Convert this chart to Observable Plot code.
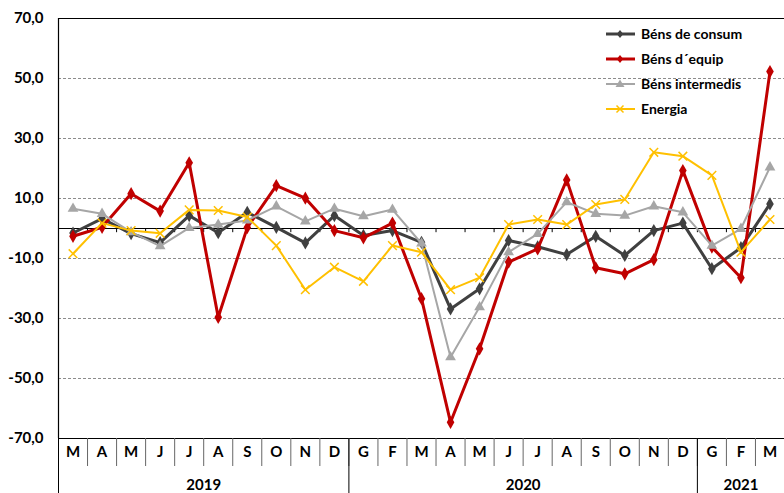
<!DOCTYPE html>
<html><head><meta charset="utf-8">
<script src="https://cdn.jsdelivr.net/npm/d3@7"></script>
<script src="https://cdn.jsdelivr.net/npm/@observablehq/plot@0.6"></script>
<style>
body{margin:0;background:#fff;}
#wrap{position:relative;width:784px;height:493px;}
#legend{position:absolute;left:606px;top:21px;font-family:Lato,"Open Sans",sans-serif;font-weight:bold;font-size:14px;color:#000;}
#legend .row{display:flex;align-items:center;height:25px;}
#legend svg{margin-right:6px;}
</style></head>
<body><div id="wrap"><div id="legend"></div></div>
<script>
const months = ["M","A","M","J","J","A","S","O","N","D","G","F","M","A","M","J","J","A","S","O","N","D","G","F","M"];
const years = ["2019","2020","2021"];
const yearStart = [0,10,22];
const yearEnd = [9,21,24];
const yTicks = [-70,-50,-30,-10,10,30,50,70];
const seriesNames = ["Béns de consum","Béns d´equip","Béns intermedis","Energia"];
const consum = [-1.5,3.3,-1.7,-4.7,4.3,-1.4,5.4,0.4,-4.8,4.3,-2.3,-0.7,-4.6,-26.8,-20.1,-4.0,-6.1,-8.7,-2.6,-9.0,-0.7,1.8,-13.4,-6.4,8.2];
const equip = [-2.6,0.4,11.6,5.8,21.9,-29.6,0.3,14.3,10.1,-0.7,-3.1,1.8,-23.4,-64.6,-40.1,-11.2,-6.8,16.2,-13.1,-15.1,-10.4,19.3,-6.2,-16.4,52.3];
const intermedis = [6.6,4.9,-1.2,-5.9,0.2,1.3,2.7,7.4,2.4,6.6,4.1,6.3,-5.0,-42.9,-26.2,-7.9,-1.8,8.8,4.9,4.3,7.4,5.4,-5.7,-0.1,20.4];
const energia = [-8.4,1.8,-0.7,-1.6,6.2,6.0,3.8,-5.7,-20.4,-12.9,-17.6,-5.7,-7.9,-20.4,-16.4,1.3,3.0,1.3,8.0,9.7,25.4,24.1,17.7,-7.9,3.0];

const styles = [
  {values: consum, color:"#404040", width:3, symbol:"diamond", r:4, filled:true},
  {values: equip, color:"#C00000", width:3, symbol:"diamond", r:4, filled:true},
  {values: intermedis, color:"#A6A6A6", width:2, symbol:"triangle", r:4, filled:true},
  {values: energia, color:"#FFC000", width:2, symbol:"times", r:4, filled:false}
];

const idx = months.map((_, i) => i);
const boundaries = idx.slice(0, -1).map(i => i + 0.5);
const yearCenters = years.map((_, k) => (yearStart[k] + yearEnd[k]) / 2);
const yearSeps = [-0.5, ...yearEnd.slice(0, -1).map(e => e + 0.5)];

const marks = [
  Plot.ruleY([-50,-30,-10,10,30,50], {stroke:"#8c8c8c", strokeDasharray:"3,2", strokeWidth:1}),
  Plot.ruleY([70,-70,0], {stroke:"#000", strokeWidth:1.2}),
  Plot.ruleX([-0.5], {stroke:"#000", strokeWidth:1.2}),
  Plot.ruleX(boundaries, {y1:0, y2:-1.4, stroke:"#000"}),
  Plot.axisY({ticks: yTicks, tickFormat: d => d.toFixed(1).replace(".", ","), tickSize:0, tickPadding:15, fontSize:15, fontWeight:"bold", label:null}),
  Plot.axisX({ticks: boundaries, tickSize:28, tickFormat: () => "", stroke:"#666", label:null}),
  Plot.axisX({ticks: idx, tickSize:0, tickPadding:8, tickFormat: i => months[i], fontSize:15, fontWeight:"bold", label:null}),
  Plot.axisX({ticks: yearSeps, tickSize:55, tickFormat: () => "", stroke:"#000", label:null}),
  Plot.axisX({ticks: yearCenters, tickSize:0, tickPadding:41, tickFormat: v => years[yearCenters.indexOf(v)], fontSize:15, fontWeight:"bold", label:null})
];
styles.forEach(s => {
  marks.push(Plot.line(idx, {x: i => i, y: i => s.values[i], stroke: s.color, strokeWidth: s.width}));
  marks.push(Plot.dot(idx, s.filled
    ? {x: i => i, y: i => s.values[i], symbol: s.symbol, r: s.r, fill: s.color, stroke: "none"}
    : {x: i => i, y: i => s.values[i], symbol: s.symbol, r: s.r, stroke: s.color, strokeWidth: 1.5}));
});

const chart = Plot.plot({
  width: 784, height: 493,
  marginTop: 18, marginBottom: 55, marginLeft: 58, marginRight: 0,
  x: {type: "linear", domain: [-0.5, 24.5]},
  y: {domain: [-70, 70]},
  style: {fontFamily: "Lato, 'Open Sans', sans-serif", color: "#000", background: "#fff", overflow: "visible"},
  marks
});
const wrap = document.getElementById("wrap");
wrap.insertBefore(chart, wrap.firstChild);

const legend = document.getElementById("legend");
seriesNames.forEach((name, k) => {
  const s = styles[k];
  const row = document.createElement("div");
  row.className = "row";
  let marker;
  if (s.symbol === "diamond") marker = `<path d="M14,${12-4} L${14+3.2},12 L14,${12+4} L${14-3.2},12Z" fill="${s.color}"/>`;
  else if (s.symbol === "triangle") marker = `<path d="M14,7.5 L18.5,15 L9.5,15Z" fill="${s.color}"/>`;
  else marker = `<path d="M10.5,8.5 L17.5,15.5 M17.5,8.5 L10.5,15.5" stroke="${s.color}" stroke-width="1.5"/>`;
  row.innerHTML = `<svg width="29" height="24"><line x1="0" x2="29" y1="12" y2="12" stroke="${s.color}" stroke-width="${s.width}"/>${marker}</svg><span>${name}</span>`;
  legend.appendChild(row);
});
</script></body></html>
